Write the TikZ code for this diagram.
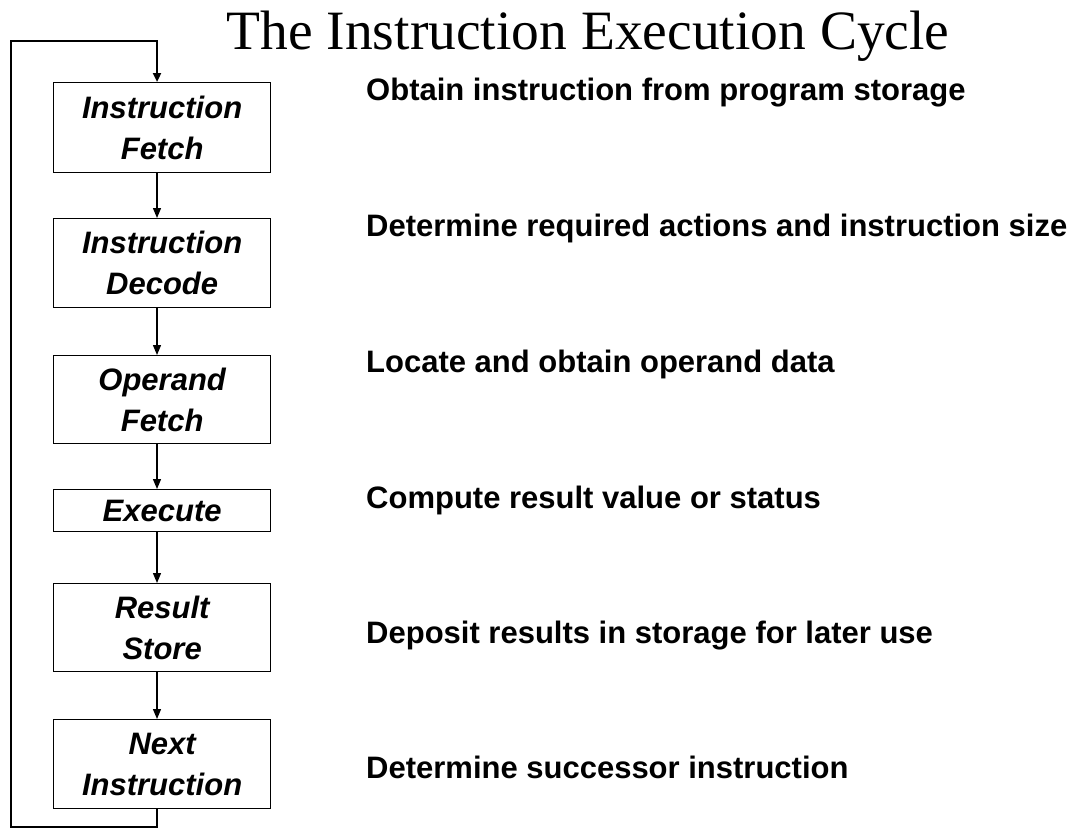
\documentclass[tikz,border=0pt]{standalone}
\usepackage{fontspec}
\setmainfont{Liberation Serif}
\setsansfont{Liberation Sans}
\usetikzlibrary{arrows.meta}
\tikzset{
  stage/.style={draw, line width=1.3pt, minimum width=217pt, inner sep=0pt,
    anchor=north west, align=center,
    font=\sffamily\bfseries\itshape\fontsize{31}{41}\selectfont},
  note/.style={anchor=base west, inner sep=0pt,
    font=\sffamily\bfseries\fontsize{31}{36}\selectfont},
  flow/.style={line width=1.3pt, -{Triangle[length=10pt,width=8pt]}},
  loopback/.style={line width=2.8pt, -{Triangle[length=9pt,width=8pt]}},
}
\begin{document}
\begin{tikzpicture}[x=1pt,y=-1pt]
\useasboundingbox (0,0) rectangle (1078,831);

% title
\node[anchor=base, inner sep=0pt, font=\rmfamily\fontsize{55.5}{60}\selectfont]
  (title) at (588,49) {The Instruction Execution Cycle};

% column through which the arrows run
\coordinate (col) at (157,0);
\coordinate (bl) at (11,827);
\coordinate (tl) at (11,41);

% stages
\node[stage, minimum height=90pt] (ifetch)  at (53,82)  {Instruction\\Fetch};
\node[stage, minimum height=89pt] (idecode) at (53,218) {Instruction\\Decode};
\node[stage, minimum height=88pt] (ofetch)  at (53,355) {Operand\\Fetch};
\node[stage, minimum height=42pt] (exec)    at (53,489) {Execute};
\node[stage, minimum height=88pt] (rstore)  at (53,583) {Result\\Store};
\node[stage, minimum height=89pt] (next)    at (53,719) {Next\\Instruction};

% descriptions
\node[note] (d1) at (366,100) {Obtain instruction from program storage};
\node[note] (d2) at (366,236) {Determine required actions and instruction size};
\node[note] (d3) at (366,372) {Locate and obtain operand data};
\node[note] (d4) at (366,508) {Compute result value or status};
\node[note] (d5) at (366,643) {Deposit results in storage for later use};
\node[note] (d6) at (366,778) {Determine successor instruction};

% forward flow
\draw[flow] (ifetch.south -| col)  -- (idecode.north -| col);
\draw[flow] (idecode.south -| col) -- (ofetch.north -| col);
\draw[flow] (ofetch.south -| col)  -- (exec.north -| col);
\draw[flow] (exec.south -| col)    -- (rstore.north -| col);
\draw[flow] (rstore.south -| col)  -- (next.north -| col);

% return path to the first stage
\draw[loopback] (next.south -| col) |- (bl) -- (tl) -| (ifetch.north -| col);
\end{tikzpicture}
\end{document}
